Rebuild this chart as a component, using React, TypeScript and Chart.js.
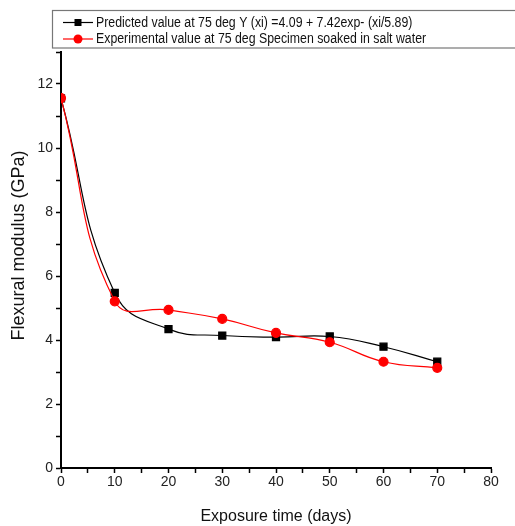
import React, { useEffect, useRef } from "react";
import { Chart, registerables } from "chart.js";

Chart.register(...registerables);

const exposureDays = [0, 10, 20, 30, 40, 50, 60, 70];
const predictedValues = [11.55, 5.47, 4.34, 4.14, 4.09, 4.11, 3.79, 3.32];
const experimentalValues = [11.56, 5.21, 4.94, 4.66, 4.22, 3.93, 3.32, 3.13];
const predictedLabel = "Predicted value at 75 deg Y (xi) =4.09 + 7.42exp- (xi/5.89)";
const experimentalLabel = "Experimental value at 75 deg Specimen soaked in salt water";
const xTitle = "Exposure time (days)";
const yTitle = "Flexural modulus (GPa)";

const FONT = "'Liberation Sans', Arial, sans-serif";

const legendBoxPlugin = {
  id: "legendBox",
  afterDraw(chart: any) {
    const ctx = chart.ctx;
    ctx.save();
    ctx.strokeStyle = "#777";
    ctx.lineWidth = 1.2;
    ctx.strokeRect(52.5, 10.5, 470, 37.5);
    const items = [
      { label: predictedLabel, color: "#000", shape: "rect", y: 22.5 },
      { label: experimentalLabel, color: "#ff0000", shape: "circle", y: 39 },
    ];
    ctx.textBaseline = "middle";
    for (const it of items) {
      ctx.strokeStyle = it.color;
      ctx.fillStyle = it.color;
      ctx.lineWidth = 1.2;
      ctx.beginPath();
      ctx.moveTo(63, it.y);
      ctx.lineTo(93, it.y);
      ctx.stroke();
      if (it.shape === "rect") {
        ctx.fillRect(74.5, it.y - 3.5, 7, 7);
      } else {
        ctx.beginPath();
        ctx.arc(78, it.y, 4.5, 0, Math.PI * 2);
        ctx.fill();
      }
      ctx.save();
      ctx.fillStyle = "#111";
      ctx.font = `14px ${FONT}`;
      ctx.translate(96, it.y + 0.5);
      ctx.scale(0.88, 1);
      ctx.fillText(it.label, 0, 0);
      ctx.restore();
    }
    // y axis title
    ctx.save();
    ctx.fillStyle = "#111";
    ctx.font = `18px ${FONT}`;
    ctx.textAlign = "center";
    ctx.textBaseline = "middle";
    ctx.translate(19.5, 245.5);
    ctx.rotate(-Math.PI / 2);
    ctx.fillText(yTitle, 0, 0);
    ctx.restore();
    ctx.restore();
  },
};

export default function App() {
  const canvasRef = useRef<HTMLCanvasElement | null>(null);

  useEffect(() => {
    if (!canvasRef.current) return;
    const chart = new Chart(canvasRef.current, {
      type: "line",
      data: {
        datasets: [
          {
            label: predictedLabel,
            data: exposureDays.map((d, i) => ({ x: d, y: predictedValues[i] })),
            borderColor: "#000",
            backgroundColor: "#000",
            borderWidth: 1.2,
            pointStyle: "rect",
            pointRadius: 5,
            tension: 0.45,
            order: 1,
          },
          {
            label: experimentalLabel,
            data: exposureDays.map((d, i) => ({ x: d, y: experimentalValues[i] })),
            borderColor: "#ff0000",
            backgroundColor: "#ff0000",
            borderWidth: 1.2,
            pointStyle: "circle",
            pointRadius: 4.5,
            tension: 0.45,
            order: 0,
          },
        ],
      },
      options: {
        animation: false,
        responsive: false,
        maintainAspectRatio: false,
        layout: { padding: { top: 52, right: 24, left: 0, bottom: 0 } },
        plugins: { legend: { display: false }, tooltip: { enabled: false } },
        scales: {
          x: {
            type: "linear",
            min: 0,
            max: 80,
            afterFit: (s: any) => {
              s.height = 58;
            },
            ticks: {
              stepSize: 5,
              autoSkip: false,
              maxRotation: 0,
              padding: 1,
              color: "#222",
              font: { family: FONT, size: 14 },
              callback: (v: any) => (Number(v) % 10 === 0 ? String(v) : ""),
            },
            grid: {
              drawOnChartArea: false,
              drawTicks: true,
              tickLength: 5,
              tickColor: "#000",
              tickWidth: 1.5,
            },
            border: { display: true, color: "#000", width: 2 },
            title: {
              display: true,
              text: xTitle,
              color: "#111",
              font: { family: FONT, size: 16 },
              padding: { top: 0, bottom: 0 },
            },
          },
          y: {
            type: "linear",
            min: 0,
            max: 13,
            afterFit: (s: any) => {
              s.width = 61;
            },
            ticks: {
              stepSize: 1,
              autoSkip: false,
              padding: 3,
              color: "#222",
              font: { family: FONT, size: 14 },
              callback: (v: any) => (Number(v) % 2 === 0 ? String(v) : ""),
            },
            grid: {
              drawOnChartArea: false,
              drawTicks: true,
              tickLength: 5,
              tickColor: "#000",
              tickWidth: 1.5,
            },
            border: { display: true, color: "#000", width: 2 },
            title: { display: false },
          },
        },
      },
      plugins: [legendBoxPlugin],
    });
    return () => chart.destroy();
  }, []);

  return (
    <div style={{ position: "fixed", left: 0, top: 0, width: 515, height: 526, background: "#fff" }}>
      <canvas ref={canvasRef} width={515} height={526} style={{ display: "block" }} />
    </div>
  );
}
